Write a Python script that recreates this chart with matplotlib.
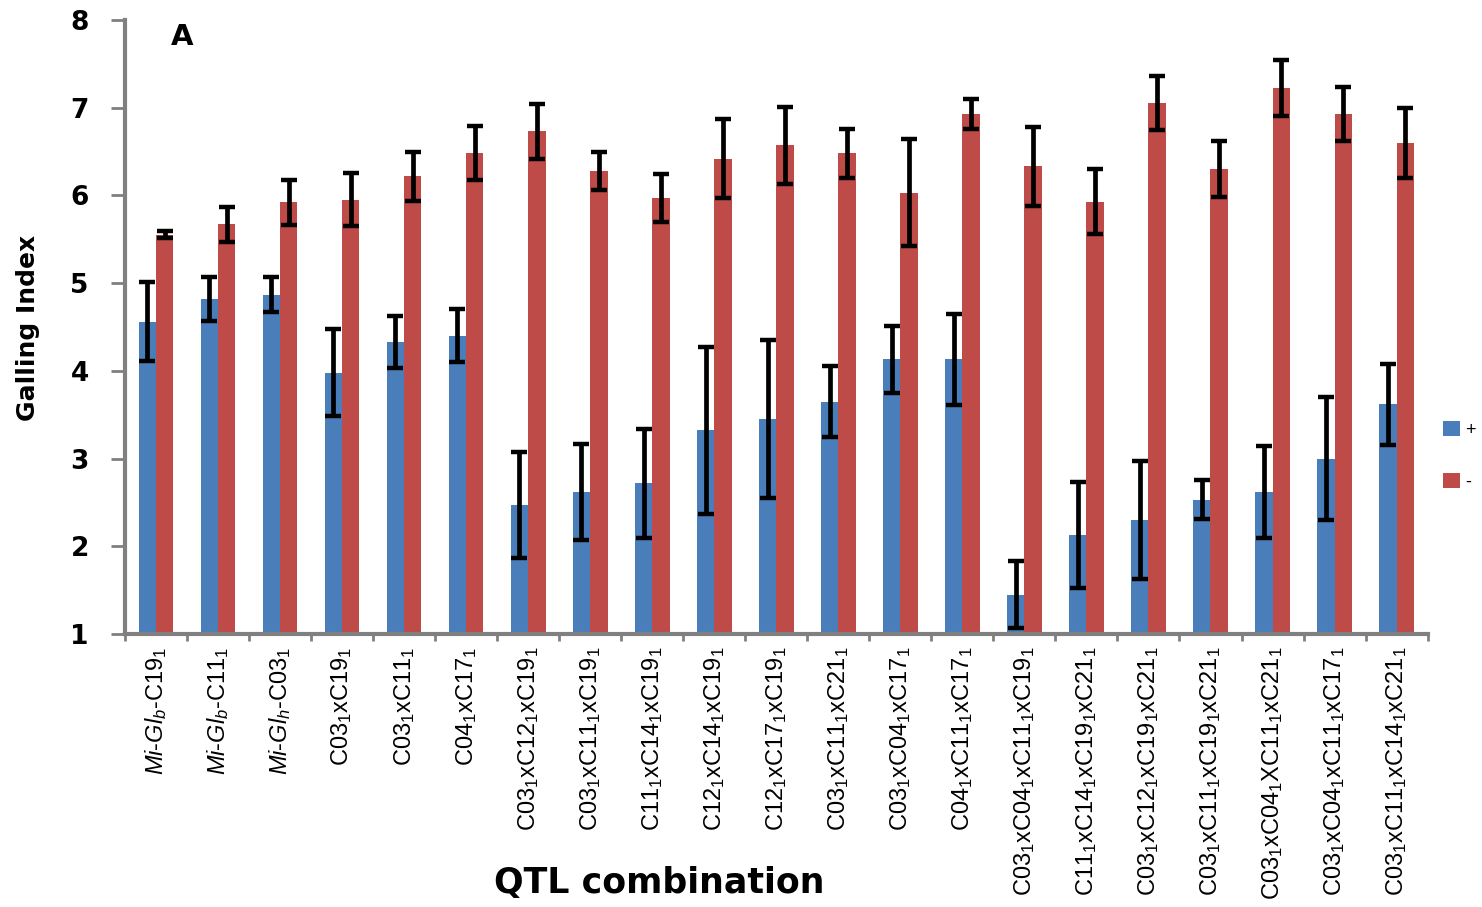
import numpy as np
import matplotlib
matplotlib.use("Agg")
import matplotlib.pyplot as plt
from matplotlib.ticker import FixedLocator

plt.rcParams["font.family"] = ["Liberation Sans", "DejaVu Sans"]
plt.rcParams["mathtext.fontset"] = "custom"
plt.rcParams["mathtext.rm"] = "Liberation Sans"
plt.rcParams["mathtext.it"] = "Liberation Sans:italic"
plt.rcParams["mathtext.bf"] = "Liberation Sans:bold"

# ---------------------------------------------------------------------------
# Data
# ---------------------------------------------------------------------------
categories = [
    r"$\mathit{Mi}$-$\mathit{Gl_b}$-C19$_\mathit{1}$",
    r"$\mathit{Mi}$-$\mathit{Gl_b}$-C11$_\mathit{1}$",
    r"$\mathit{Mi}$-$\mathit{Gl_h}$-C03$_\mathit{1}$",
    r"C03$_\mathit{1}$xC19$_\mathit{1}$",
    r"C03$_\mathit{1}$xC11$_\mathit{1}$",
    r"C04$_\mathit{1}$xC17$_\mathit{1}$",
    r"C03$_\mathit{1}$xC12$_\mathit{1}$xC19$_\mathit{1}$",
    r"C03$_\mathit{1}$xC11$_\mathit{1}$xC19$_\mathit{1}$",
    r"C11$_\mathit{1}$xC14$_\mathit{1}$xC19$_\mathit{1}$",
    r"C12$_\mathit{1}$xC14$_\mathit{1}$xC19$_\mathit{1}$",
    r"C12$_\mathit{1}$xC17$_\mathit{1}$xC19$_\mathit{1}$",
    r"C03$_\mathit{1}$xC11$_\mathit{1}$xC21$_\mathit{1}$",
    r"C03$_\mathit{1}$xC04$_\mathit{1}$xC17$_\mathit{1}$",
    r"C04$_\mathit{1}$xC11$_\mathit{1}$xC17$_\mathit{1}$",
    r"C03$_\mathit{1}$xC04$_\mathit{1}$xC11$_\mathit{1}$xC19$_\mathit{1}$",
    r"C11$_\mathit{1}$xC14$_\mathit{1}$xC19$_\mathit{1}$xC21$_\mathit{1}$",
    r"C03$_\mathit{1}$xC12$_\mathit{1}$xC19$_\mathit{1}$xC21$_\mathit{1}$",
    r"C03$_\mathit{1}$xC11$_\mathit{1}$xC19$_\mathit{1}$xC21$_\mathit{1}$",
    r"C03$_\mathit{1}$xC04$_\mathit{1}$XC11$_\mathit{1}$xC21$_\mathit{1}$",
    r"C03$_\mathit{1}$xC04$_\mathit{1}$xC11$_\mathit{1}$xC17$_\mathit{1}$",
    r"C03$_\mathit{1}$xC11$_\mathit{1}$xC14$_\mathit{1}$xC21$_\mathit{1}$",
]

plus_mean = [4.56, 4.82, 4.87, 3.98, 4.33, 4.40, 2.47, 2.62, 2.72, 3.32, 3.45,
             3.65, 4.13, 4.13, 1.45, 2.13, 2.30, 2.53, 2.62, 3.00, 3.62]
plus_err = [0.45, 0.25, 0.20, 0.50, 0.30, 0.30, 0.60, 0.55, 0.62, 0.95, 0.90,
            0.40, 0.38, 0.52, 0.38, 0.60, 0.67, 0.22, 0.52, 0.70, 0.46]

minus_mean = [5.55, 5.67, 5.92, 5.95, 6.22, 6.48, 6.73, 6.28, 5.97, 6.42, 6.57,
              6.48, 6.03, 6.93, 6.33, 5.93, 7.05, 6.30, 7.22, 6.93, 6.60]
minus_err = [0.04, 0.20, 0.26, 0.30, 0.28, 0.31, 0.31, 0.22, 0.27, 0.45, 0.44,
             0.28, 0.61, 0.17, 0.45, 0.37, 0.31, 0.32, 0.32, 0.31, 0.40]

series_labels = ["+", "-"]
colors = ["#4a7ebb", "#be4b48"]

# ---------------------------------------------------------------------------
fig = plt.figure(figsize=(14.82, 9.07), dpi=100)
ax = fig.add_axes([0.0843, 0.301, 0.879, 0.677])

x = np.arange(len(categories))
w = 0.28
err_kw = dict(ecolor="black", elinewidth=3.4, capsize=6, capthick=3.2)

b1 = ax.bar(x - w / 2, plus_mean, w, bottom=0, color=colors[0],
            yerr=plus_err, error_kw=err_kw, label=series_labels[0], zorder=2)
b2 = ax.bar(x + w / 2, minus_mean, w, bottom=0, color=colors[1],
            yerr=minus_err, error_kw=err_kw, label=series_labels[1], zorder=2)

ax.set_ylim(1, 8)
ax.set_xlim(-0.5, len(categories) - 0.5)
ax.set_yticks(range(1, 9))
ax.set_yticklabels([str(v) for v in range(1, 9)],
                   fontsize=19, fontweight="bold", family="DejaVu Sans")

ax.set_xticks(x)
ax.set_xticklabels(categories, rotation=90, fontsize=17, va="top", ha="center")
ax.xaxis.set_minor_locator(FixedLocator(np.arange(-0.5, len(categories), 1.0)))
ax.tick_params(axis="x", which="major", length=0, pad=9)
ax.tick_params(axis="x", which="minor", length=5, width=2, color="#808080",
               direction="out")
ax.tick_params(axis="y", length=10, width=2, color="#808080", pad=16)

for side in ("top", "right"):
    ax.spines[side].set_visible(False)
for side in ("left", "bottom"):
    ax.spines[side].set_color("#808080")
    ax.spines[side].set_linewidth(3)

fig.text(0.019, 0.638, "Galling Index", rotation=90, ha="center", va="center",
         fontsize=18, fontweight="bold", family="DejaVu Sans")
fig.text(0.445, 0.008, "QTL combination", ha="center", va="bottom",
         fontsize=25, fontweight="bold", family="DejaVu Sans")
ax.text(0.044, 0.995, "A", transform=ax.transAxes, ha="center", va="top",
        fontsize=21, fontweight="bold", family="DejaVu Sans")

leg = fig.legend(handles=[b1, b2], labels=series_labels, loc="center left",
                 bbox_to_anchor=(0.969, 0.497), frameon=False, fontsize=13,
                 handlelength=0.9, handleheight=0.9, handletextpad=0.3,
                 labelspacing=1.9, borderaxespad=0)

fig.savefig("out.png", dpi=100)
